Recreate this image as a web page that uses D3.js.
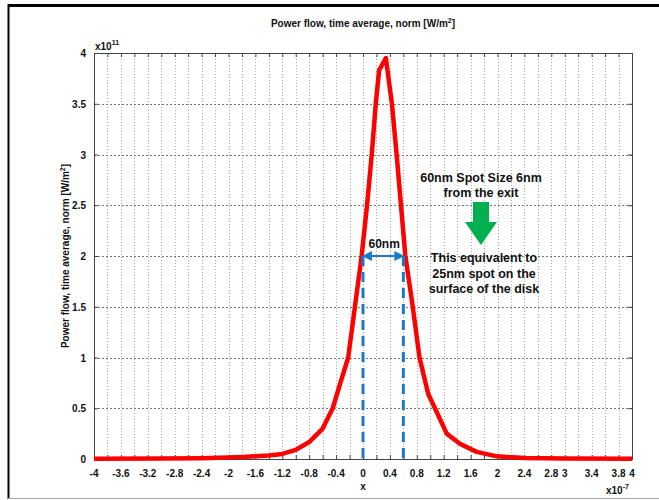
<!DOCTYPE html>
<html>
<head>
<meta charset="utf-8">
<script src="https://cdn.jsdelivr.net/npm/d3@7"></script>
<style>
  html, body { margin: 0; padding: 0; background: #fff; }
  svg { display: block; }
  text { font-family: "Liberation Sans", Arial, sans-serif; font-weight: bold; fill: #111; }
</style>
</head>
<body>
<svg id="chart" width="659" height="500"></svg>
<script>
// Position along x (units of 1e-7) and time-averaged power flow (units of 1e11 W/m^2)
const xValues = [-4, -3, -2.4, -2, -1.8, -1.6, -1.4, -1.2, -1.0, -0.8, -0.6, -0.45, -0.35, -0.22, -0.12, -0.02,
                 0.06, 0.13, 0.19, 0.24, 0.34, 0.43, 0.50, 0.565, 0.63, 0.74, 0.84, 0.97, 1.07, 1.245, 1.44,
                 1.69, 1.99, 2.4, 3, 4];
const powerValues = [0.002, 0.004, 0.008, 0.015, 0.02, 0.027, 0.035, 0.05, 0.09, 0.167, 0.30, 0.5, 0.72, 1.0, 1.5, 2.0,
                     2.5, 3.0, 3.5, 3.83, 3.95, 3.5, 3.0, 2.5, 2.0, 1.5, 1.0, 0.64, 0.5, 0.25, 0.15,
                     0.07, 0.026, 0.01, 0.004, 0.002];

// Axis ticks
const xTickLabels = [-4, -3.6, -3.2, -2.8, -2.4, -2, -1.6, -1.2, -0.8, -0.4, 0, 0.4, 0.8, 1.2, 1.6, 2, 2.4, 2.8, 3, 3.4, 3.8, 4];
const yTickLabels = [0, 0.5, 1, 1.5, 2, 2.5, 3, 3.5, 4];

// Spot-size markers (FWHM edges at half maximum)
const spotEdges = [0, 0.6];
const spotLevel = 2;

const svg = d3.select("#chart");
const margin = { left: 94, right: 27, top: 53, bottom: 41 };
const W = 659, H = 500;
const x = d3.scaleLinear().domain([-4, 4]).range([margin.left, W - margin.right]);
const y = d3.scaleLinear().domain([0, 4]).range([H - margin.bottom, margin.top]);

// Outer figure frame
svg.append("line").attr("x1", 8).attr("x2", 659).attr("y1", 5.5).attr("y2", 5.5).attr("stroke", "#000").attr("stroke-width", 3);
svg.append("line").attr("x1", 8.5).attr("x2", 8.5).attr("y1", 4).attr("y2", 499).attr("stroke", "#000").attr("stroke-width", 2);
svg.append("line").attr("x1", 8).attr("x2", 659).attr("y1", 498.5).attr("y2", 498.5).attr("stroke", "#aaa").attr("stroke-width", 1);

// Grid
const minorX = d3.range(-3.8, 3.81, 0.2).map(v => +v.toFixed(1));
svg.append("g").selectAll("line").data(minorX).join("line")
  .attr("x1", d => Math.round(x(d)) + 0.5).attr("x2", d => Math.round(x(d)) + 0.5)
  .attr("y1", y(4)).attr("y2", y(0))
  .attr("stroke", "#a8a8a8").attr("stroke-width", 1).attr("stroke-dasharray", "1,2");
svg.append("g").selectAll("line").data(yTickLabels.slice(1, -1)).join("line")
  .attr("x1", x(-4)).attr("x2", x(4))
  .attr("y1", d => Math.round(y(d)) + 0.5).attr("y2", d => Math.round(y(d)) + 0.5)
  .attr("stroke", "#777").attr("stroke-width", 1).attr("stroke-dasharray", "2,2");

// Axes with inward ticks
const xTickVals = d3.range(-4, 4.01, 0.2).map(v => +v.toFixed(1));
const xAxis = d3.axisBottom(x).tickValues(xTickVals).tickSize(-4).tickFormat("");
const xAxisTop = d3.axisTop(x).tickValues(xTickVals).tickSize(-4).tickFormat("");
const yAxis = d3.axisLeft(y).tickValues(yTickLabels).tickSize(-4).tickFormat("");
const yAxisRight = d3.axisRight(y).tickValues(yTickLabels).tickSize(-4).tickFormat("");
[[xAxis, `translate(0,${y(0)})`], [xAxisTop, `translate(0,${y(4)})`],
 [yAxis, `translate(${x(-4)},0)`], [yAxisRight, `translate(${x(4)},0)`]].forEach(([ax, tr]) => {
  const g = svg.append("g").attr("transform", tr).call(ax);
  g.selectAll("path").attr("stroke", "#444");
  g.selectAll("line").attr("stroke", "#444");
});

// Tick labels
svg.append("g").selectAll("text").data(xTickLabels).join("text")
  .attr("x", d => x(d)).attr("y", y(0) + 18)
  .attr("text-anchor", "middle").attr("font-size", 10)
  .text(d => String(d));
svg.append("g").selectAll("text").data(yTickLabels).join("text")
  .attr("x", x(-4) - 8).attr("y", d => y(d) + 4)
  .attr("text-anchor", "end").attr("font-size", 10)
  .text(d => String(d));

// Exponent labels
const ey = svg.append("text").attr("x", x(-4) + 1).attr("y", y(4) - 3).attr("font-size", 10);
ey.append("tspan").text("x10");
ey.append("tspan").attr("dy", -5).attr("font-size", 7).text("11");
const ex = svg.append("text").attr("x", 606).attr("y", 494).attr("font-size", 10);
ex.append("tspan").text("x10");
ex.append("tspan").attr("dy", -5).attr("font-size", 7).text("-7");

// Axis titles
const title = svg.append("text").attr("x", x(0)).attr("y", 27).attr("text-anchor", "middle").attr("font-size", 10);
title.append("tspan").text("Power flow, time average, norm [W/m");
title.append("tspan").attr("dy", -4).attr("font-size", 7).text("2");
title.append("tspan").attr("dy", 4).text("]");
svg.append("text").attr("x", x(0)).attr("y", 490).attr("text-anchor", "middle").attr("font-size", 10).text("x");
const yl = svg.append("text").attr("transform", `translate(69,${y(2)}) rotate(-90)`)
  .attr("text-anchor", "middle").attr("font-size", 10);
yl.append("tspan").text("Power flow, time average, norm [W/m");
yl.append("tspan").attr("dy", -4).attr("font-size", 7).text("2");
yl.append("tspan").attr("dy", 4).text("]");

// Power-flow profile
const data = xValues.map((v, i) => [v, powerValues[i]]);
svg.append("path").datum(data)
  .attr("d", d3.line().x(d => x(d[0])).y(d => y(d[1])))
  .attr("fill", "none").attr("stroke", "#ff0000").attr("stroke-width", 4.5)
  .attr("stroke-linejoin", "round");

// Spot-size markers
const blue = "#1a7ac8";
svg.append("g").selectAll("line").data(spotEdges).join("line")
  .attr("x1", d => x(d)).attr("x2", d => x(d))
  .attr("y1", y(spotLevel)).attr("y2", y(0) + 3)
  .attr("stroke", blue).attr("stroke-width", 3).attr("stroke-dasharray", "10,6");
svg.append("defs").append("marker").attr("id", "ah").attr("viewBox", "0 0 10 10")
  .attr("refX", 9).attr("refY", 5).attr("markerWidth", 5).attr("markerHeight", 5).attr("orient", "auto-start-reverse")
  .append("path").attr("d", "M0,0 L10,5 L0,10 z").attr("fill", blue);
svg.append("line").attr("x1", x(spotEdges[0])).attr("x2", x(spotEdges[1]))
  .attr("y1", y(spotLevel)).attr("y2", y(spotLevel))
  .attr("stroke", blue).attr("stroke-width", 2)
  .attr("marker-start", "url(#ah)").attr("marker-end", "url(#ah)");
svg.append("text").attr("x", (x(spotEdges[0]) + x(spotEdges[1])) / 2 + 1).attr("y", y(spotLevel) - 8)
  .attr("text-anchor", "middle").attr("font-size", 12).text("60nm");

// Annotation
const note1 = ["60nm Spot Size 6nm", "from the exit"];
const note2 = ["This equivalent to", "25nm spot on the", "surface of the disk"];
svg.append("g").selectAll("text").data(note1).join("text")
  .attr("x", 481).attr("y", (d, i) => 182 + i * 15)
  .attr("text-anchor", "middle").attr("font-size", 12.5).text(d => d);
svg.append("g").selectAll("text").data(note2).join("text")
  .attr("x", 484).attr("y", (d, i) => 262 + i * 15.5)
  .attr("text-anchor", "middle").attr("font-size", 12.5).text(d => d);
svg.append("path")
  .attr("d", "M473,202 L489,202 L489,222 L497,222 L481,245 L465,222 L473,222 Z")
  .attr("fill", "#00b04f");
</script>
</body>
</html>
